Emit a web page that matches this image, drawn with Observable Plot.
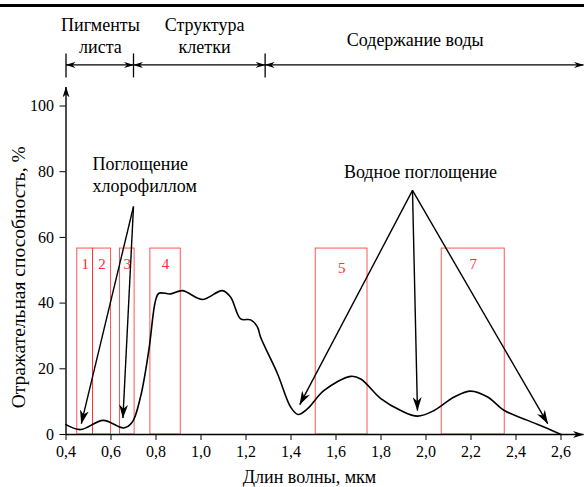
<!DOCTYPE html>
<html>
<head>
<meta charset="utf-8">
<script src="https://cdn.jsdelivr.net/npm/d3@7"></script>
<script src="https://cdn.jsdelivr.net/npm/@observablehq/plot@0.6"></script>
<style>
  html, body { margin: 0; padding: 0; background: #fff; }
  #chart { margin-top: 4px; border-top: 3px solid #000; width: 584px; }
  #chart svg { display: block; font-family: "Liberation Serif", "Times New Roman", serif !important; }
</style>
</head>
<body>
<div id="chart"></div>
<script>
// Spectral reflectance of green vegetation, 0.4–2.6 µm
const wavelength = [0.40, 0.465, 0.565, 0.657, 0.694, 0.731, 0.768, 0.798, 0.813, 0.865, 0.917,
  1.006, 1.095, 1.132, 1.176, 1.221, 1.251, 1.265, 1.34, 1.399, 1.431, 1.473, 1.547, 1.666,
  1.71, 1.799, 1.888, 1.962, 2.036, 2.125, 2.199, 2.274, 2.348, 2.452, 2.555, 2.60];
const reflectance = [3.0, 1.5, 4.3, 2.0, 3.7, 11.4, 25.6, 40.8, 43.0, 42.8, 43.8,
  41.1, 43.8, 41.8, 35.2, 34.9, 32.7, 29.6, 18.5, 8.3, 6.1, 7.8, 13.4, 17.7,
  16.9, 10.9, 7.3, 5.6, 7.3, 11.4, 13.2, 11.4, 7.3, 4.3, 1.4, 0.0];

// Sensor bands (µm)
const bandNames = ["1", "2", "3", "4", "5", "7"];
const bandStart = [0.45, 0.52, 0.64, 0.775, 1.51, 2.07];
const bandEnd = [0.52, 0.60, 0.705, 0.91, 1.74, 2.35];
const bandTop = 56.6;

// Axis ticks
const xTicks = [0.4, 0.6, 0.8, 1.0, 1.2, 1.4, 1.6, 1.8, 2.0, 2.2, 2.4, 2.6];
const yTicks = [0, 20, 40, 60, 80, 100];

// Dominant factors along the spectrum
const regionNames = ["Пигменты\nлиста", "Структура\nклетки", "Содержание воды"];
const regionLabelX = [0.553, 1.016, 1.952];
const regionLabelY = [116.0, 116.0, 118.3];
const regionBounds = [0.4, 0.7, 1.285, 2.70];
const regionLineY = 112.5;
const regionTickTop = 116.0;
const regionTickBottom = 108.7;

// Absorption call-outs: label, arrow origin and arrow tips
const chloroLabel = "Поглощение\nхлорофиллом";
const chloroLabelAt = [0.518, 73.8];
const chloroFrom = [0.700, 69.4];
const chloroTips = [[0.468, 3.3], [0.653, 5.0]];
const waterLabel = "Водное поглощение";
const waterLabelAt = [1.635, 78.1];
const waterFrom = [1.940, 74.3];
const waterTips = [[1.439, 9.1], [1.962, 7.3], [2.541, 3.3]];

// Axis arrow ends
const xAxisEnd = 2.70;
const yAxisEnd = 105.8;

// Tables built from the arrays above
const spectrum = wavelength.map((w, i) => ({w, r: reflectance[i]}));
const bands = bandNames.map((name, i) => ({name, x1: bandStart[i], x2: bandEnd[i]}));
const regionLabels = regionNames.map((t, i) => ({t, x: regionLabelX[i], y: regionLabelY[i]}));
const regionSegments = regionBounds.slice(0, -1).map((x, i) => ({x1: x, x2: regionBounds[i + 1]}));
const regionTicks = regionBounds.slice(0, -1);
const pointers = [
  ...chloroTips.map(([x, y]) => ({x1: chloroFrom[0], y1: chloroFrom[1], x2: x, y2: y})),
  ...waterTips.map(([x, y]) => ({x1: waterFrom[0], y1: waterFrom[1], x2: x, y2: y}))
];
const callouts = [
  {t: chloroLabel, x: chloroLabelAt[0], y: chloroLabelAt[1]},
  {t: waterLabel, x: waterLabelAt[0], y: waterLabelAt[1]}
];

const serif = "Liberation Serif, Times New Roman, serif";
const comma = d => d3.format(".1f")(d).replace(".", ",");

const chart = Plot.plot({
  width: 584,
  height: 480,
  marginLeft: 65.5,
  marginRight: 23.5,
  marginTop: 98.5,
  marginBottom: 53,
  style: {fontFamily: serif, fontSize: "16px", color: "#000", background: "#fff", overflow: "visible"},
  x: {domain: [0.4, 2.6], ticks: xTicks, tickFormat: comma, tickSize: 6, tickPadding: 5, label: null},
  y: {domain: [0, 100], ticks: yTicks, tickSize: 6, tickPadding: 6, label: null},
  marks: [
    // sensor band windows
    Plot.rect(bands, {x1: "x1", x2: "x2", y1: 0, y2: bandTop, fill: "none", stroke: "#ff2a2a", strokeOpacity: 0.8, strokeWidth: 1}),
    Plot.text(bands.filter(d => d.name !== "5"), {x: d => (d.x1 + d.x2) / 2, y: bandTop, text: "name", dy: 20, lineAnchor: "bottom", fill: "#ff2a2a", fontSize: 15, fontFamily: serif}),
    Plot.text(bands.filter(d => d.name === "5"), {x: d => (d.x1 + d.x2) / 2, y: bandTop, text: "name", dy: 24, lineAnchor: "bottom", fill: "#ff2a2a", fontSize: 15, fontFamily: serif}),
    // reflectance curve
    Plot.line(spectrum, {x: "w", y: "r", curve: "catmull-rom", stroke: "#000", strokeWidth: 1.6}),
    // axis lines with arrows (link mark 0)
    Plot.link([{x1: 0.4, y1: 0, x2: xAxisEnd, y2: 0}, {x1: 0.4, y1: 0, x2: 0.4, y2: yAxisEnd}],
      {x1: "x1", y1: "y1", x2: "x2", y2: "y2", stroke: "#000", strokeWidth: 1.4}),
    // region dimension lines (link mark 1) and their end ticks (link mark 2)
    Plot.link(regionSegments, {x1: "x1", x2: "x2", y1: regionLineY, y2: regionLineY, stroke: "#000", strokeWidth: 1.2}),
    Plot.link(regionTicks, {x1: d => d, x2: d => d, y1: regionTickBottom, y2: regionTickTop, stroke: "#000", strokeWidth: 1.3}),
    Plot.text(regionLabels, {x: "x", y: "y", text: "t", lineAnchor: "bottom", lineHeight: 1.24, fontSize: 18, fontFamily: serif}),
    // absorption call-outs (link mark 3)
    Plot.link(pointers, {x1: "x1", y1: "y1", x2: "x2", y2: "y2", stroke: "#000", strokeWidth: 1.4}),
    Plot.text(callouts, {x: "x", y: "y", text: "t", textAnchor: "start", lineAnchor: "bottom", lineHeight: 1.2, fontSize: 18, fontFamily: serif}),
    // axis titles
    Plot.text(["Отражательная способность, %"], {frameAnchor: "left", textAnchor: "middle", dx: -47, dy: 7, rotate: -90, fontSize: 19.5, lineAnchor: "middle", fontFamily: serif}),
    Plot.text(["Длин волны, мкм"], {frameAnchor: "bottom", textAnchor: "middle", dx: -4, dy: 48, fontSize: 18, lineAnchor: "bottom", fontFamily: serif})
  ]
});

// filled arrowheads for the link marks
const svg = d3.select(chart);
const defs = svg.insert("defs", ":first-child");
function addHead(id, len, wid) {
  defs.append("marker")
    .attr("id", id)
    .attr("viewBox", `0 ${-wid / 2} ${len} ${wid}`)
    .attr("refX", len - 0.5).attr("refY", 0)
    .attr("markerWidth", len).attr("markerHeight", wid)
    .attr("markerUnits", "userSpaceOnUse")
    .attr("orient", "auto-start-reverse")
    .append("path")
    .attr("d", `M0,${-wid / 2}L${len},0L0,${wid / 2}L${len * 0.3},0Z`)
    .attr("fill", "#000");
}
addHead("head-pointer", 14, 9);
addHead("head-axis", 11, 7);
addHead("head-region", 10, 6);
const linkGroups = svg.selectAll('g[aria-label="link"]').nodes();
d3.select(linkGroups[0]).selectAll("path").attr("marker-end", "url(#head-axis)");
d3.select(linkGroups[1]).selectAll("path")
  .attr("marker-start", "url(#head-region)")
  .attr("marker-end", "url(#head-region)");
d3.select(linkGroups[3]).selectAll("path").attr("marker-end", "url(#head-pointer)");

document.getElementById("chart").append(chart);
</script>
</body>
</html>
